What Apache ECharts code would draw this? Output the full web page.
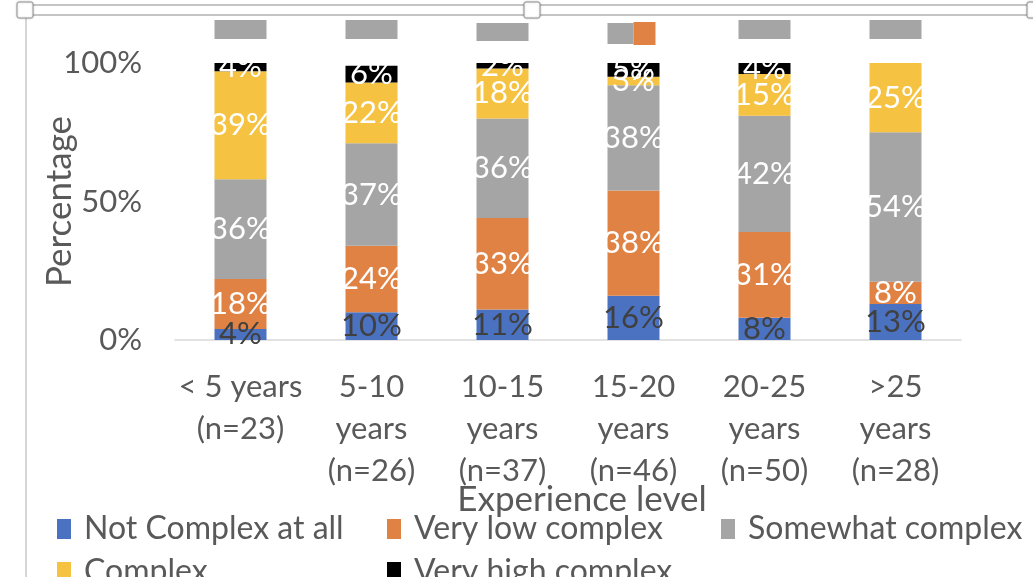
<!DOCTYPE html>
<html>
<head>
<meta charset="utf-8">
<script src="https://cdn.jsdelivr.net/npm/echarts@6/dist/echarts.min.js"></script>
<style>
  html, body { margin: 0; padding: 0; background: #fff; }
  #chart { width: 1033px; height: 577px; }
</style>
</head>
<body>
<div id="chart"></div>
<script>
// Experience groups on the category axis
const categories = ['< 5 years\n(n=23)', '5-10\nyears\n(n=26)', '10-15\nyears\n(n=37)',
                    '15-20\nyears\n(n=46)', '20-25\nyears\n(n=50)', '>25\nyears\n(n=28)'];

// Share of respondents (%) per complexity rating
const notComplex   = [4, 10, 11, 16, 8, 13];
const veryLow      = [18, 24, 33, 38, 31, 8];
const somewhat     = [36, 37, 36, 38, 42, 54];
const complex      = [39, 22, 18, 3, 15, 25];
const veryHigh     = [4, 6, 2, 5, 4, 0];

const yTicks = [0, 50, 100];

const seriesDefs = [
  { name: 'Not Complex at all', data: notComplex, color: '#4A72C1', label: '#404040' },
  { name: 'Very low complex',   data: veryLow,    color: '#E08244', label: '#ffffff' },
  { name: 'Somewhat complex',   data: somewhat,   color: '#A5A5A5', label: '#ffffff' },
  { name: 'Complex',            data: complex,    color: '#F5C242', label: '#ffffff' },
  { name: 'Very high complex',  data: veryHigh,   color: '#000000', label: '#ffffff' }
];

const FONT = 'Lato';
const TXT = '#595959';

const chart = echarts.init(document.getElementById('chart'), null, { renderer: 'canvas' });

const legendSpots = [
  { left: 57,  top: 513 }, { left: 387, top: 513 }, { left: 721, top: 513 },
  { left: 57,  top: 556 }, { left: 387, top: 556 }
];

chart.setOption({
  animation: false,
  backgroundColor: '#ffffff',
  grid: { left: 175, right: 72, top: 63, bottom: 237, containLabel: false },
  legend: seriesDefs.map((s, i) => ({
    data: [s.name],
    left: legendSpots[i].left,
    top: legendSpots[i].top,
    icon: 'rect',
    itemWidth: 14,
    itemHeight: 20,
    itemGap: 0,
    padding: 0,
    textStyle: { fontFamily: FONT, fontSize: 32, color: TXT, padding: [0, 0, 0, 8] },
    selectedMode: false
  })),
  xAxis: {
    type: 'category',
    data: categories,
    name: 'Experience level',
    nameLocation: 'middle',
    nameGap: 142,
    nameMoveOverlap: false,
    nameTextStyle: { fontFamily: FONT, fontSize: 35, color: TXT, padding: [0, 0, 0, 28] },
    axisLine: { lineStyle: { color: '#D9D9D9', width: 1.5 } },
    axisTick: { show: false },
    axisLabel: {
      interval: 0, margin: 26, fontFamily: FONT, fontSize: 31, color: TXT, lineHeight: 42
    }
  },
  yAxis: {
    type: 'value',
    min: yTicks[0],
    max: yTicks[yTicks.length - 1],
    interval: yTicks[1] - yTicks[0],
    name: 'Percentage',
    nameLocation: 'middle',
    nameGap: 98,
    nameMoveOverlap: false,
    nameTextStyle: { fontFamily: FONT, fontSize: 35, color: TXT },
    axisLine: { show: false },
    axisTick: { show: false },
    splitLine: { show: false },
    axisLabel: { formatter: '{value}%', margin: 33, fontFamily: FONT, fontSize: 31, color: TXT }
  },
  series: seriesDefs.map(s => ({
    name: s.name,
    type: 'bar',
    stack: 'share',
    barWidth: 52,
    data: s.data,
    itemStyle: { color: s.color },
    label: {
      show: true,
      position: 'inside',
      formatter: p => (p.value > 0 ? p.value + '%' : ''),
      fontFamily: FONT,
      fontSize: 31,
      color: s.label
    }
  }))
});

// Frame of the chart object: border lines, sizing handles and the strip of
// small tabs above each column.
const g = [];
g.push({ type: 'line', shape: { x1: 26, y1: 5, x2: 1033, y2: 5 }, style: { stroke: '#C4C4C4', lineWidth: 2 } });
g.push({ type: 'line', shape: { x1: 26, y1: 15, x2: 1033, y2: 15 }, style: { stroke: '#C4C4C4', lineWidth: 2 } });
g.push({ type: 'line', shape: { x1: 26, y1: 15, x2: 26, y2: 577 }, style: { stroke: '#D6D6D6', lineWidth: 2 } });
[[17, 2], [524, 2], [1027, 2]].forEach(([x, y]) => {
  g.push({ type: 'rect', shape: { x, y, width: 16, height: 16, r: 2 },
           style: { fill: '#ffffff', stroke: '#9A9A9A', lineWidth: 1, shadowBlur: 2, shadowColor: 'rgba(0,0,0,0.25)' } });
});
const tabs = [
  [{ w: 52, y: 20, h: 19, c: '#A5A5A5' }],
  [{ w: 52, y: 20, h: 19, c: '#A5A5A5' }],
  [{ w: 52, y: 23, h: 18, c: '#A5A5A5' }],
  [{ w: 26, y: 23, h: 21, c: '#A5A5A5' }, { w: 22, y: 22, h: 23, c: '#E08244' }],
  [{ w: 52, y: 20, h: 19, c: '#A5A5A5' }],
  [{ w: 52, y: 20, h: 19, c: '#A5A5A5' }]
];
tabs.forEach((parts, i) => {
  const cx = chart.convertToPixel({ xAxisIndex: 0 }, i);
  let x = cx - 26;
  parts.forEach(p => {
    g.push({ type: 'rect', shape: { x, y: p.y, width: p.w, height: p.h }, style: { fill: p.c } });
    x += p.w;
  });
});
chart.setOption({ graphic: g });
</script>
</body>
</html>
